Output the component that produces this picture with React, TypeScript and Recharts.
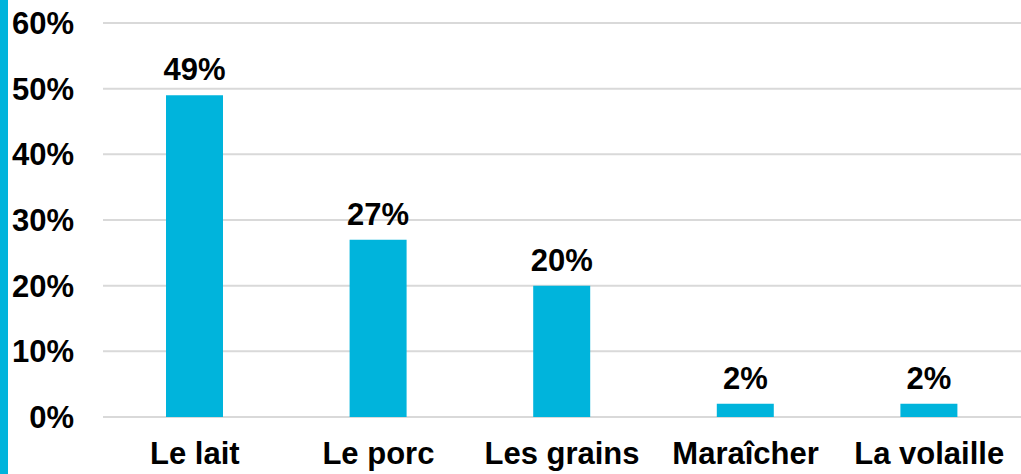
import React from 'react';
import { BarChart, Bar, XAxis, YAxis, CartesianGrid, LabelList } from 'recharts';

const categories = ['Le lait', 'Le porc', 'Les grains', 'Maraîcher', 'La volaille'];
const shares = [49, 27, 20, 2, 2];
const yTicks = [0, 10, 20, 30, 40, 50, 60];

const BLUE = '#00B4DC';
const FONT = '"Liberation Sans", Arial, sans-serif';

const data = categories.map((name, i) => ({ name, value: shares[i] }));

const App: React.FC = () => {
    return (
        <div style={{ position: 'absolute', left: 0, top: 0, width: 1021, height: 474, background: '#fff', overflow: 'hidden' }}>
            <BarChart
                width={1021}
                height={474}
                data={data}
                margin={{ top: 23, right: 0, bottom: 0, left: 0 }}
                style={{ fontFamily: FONT }}
            >
                <CartesianGrid vertical={false} stroke="#D9D9D9" strokeWidth={2} />
                <XAxis
                    dataKey="name"
                    axisLine={false}
                    tickLine={false}
                    tickSize={0}
                    tickMargin={25}
                    height={57}
                    interval={0}
                    tick={{ fill: '#000', fontSize: 31, fontWeight: 'bold', fontFamily: FONT }}
                />
                <YAxis
                    domain={[0, 60]}
                    ticks={yTicks}
                    axisLine={false}
                    tickLine={false}
                    tickSize={0}
                    tickMargin={29}
                    width={103}
                    tickFormatter={(v: number) => `${v}%`}
                    tick={{ fill: '#000', fontSize: 31, fontWeight: 'bold', fontFamily: FONT }}
                />
                <Bar dataKey="value" fill={BLUE} barSize={57} isAnimationActive={false}>
                    <LabelList
                        dataKey="value"
                        position="top"
                        offset={15}
                        formatter={(v: number) => `${v}%`}
                        style={{ fill: '#000', fontSize: 31, fontWeight: 'bold', fontFamily: FONT }}
                    />
                </Bar>
            </BarChart>
            <div style={{ position: 'absolute', left: 0, top: 0, width: 8, height: 474, background: BLUE, zIndex: 2 }} />
        </div>
    );
};

export default App;
